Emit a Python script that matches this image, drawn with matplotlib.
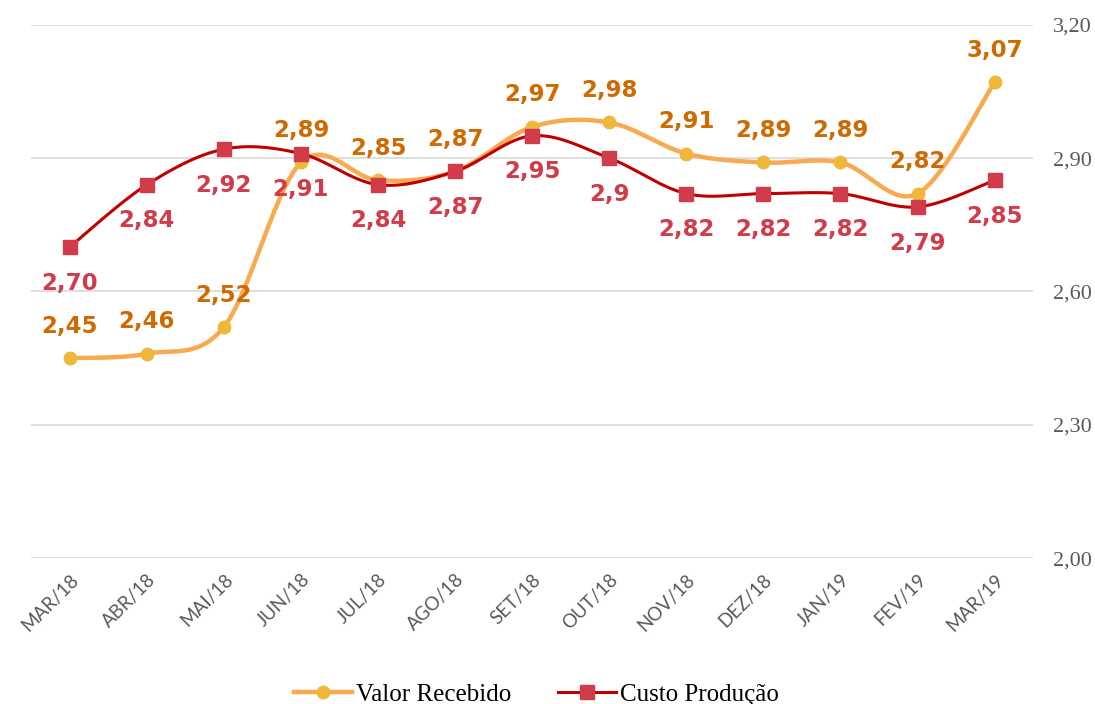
import numpy as np
import matplotlib
matplotlib.use('Agg')
import matplotlib.pyplot as plt
from matplotlib.lines import Line2D

meses = ['MAR/18', 'ABR/18', 'MAI/18', 'JUN/18', 'JUL/18', 'AGO/18', 'SET/18',
         'OUT/18', 'NOV/18', 'DEZ/18', 'JAN/19', 'FEV/19', 'MAR/19']
valor_recebido = [2.45, 2.46, 2.52, 2.89, 2.85, 2.87, 2.97, 2.98, 2.91, 2.89, 2.89, 2.82, 3.07]
custo_producao = [2.70, 2.84, 2.92, 2.91, 2.84, 2.87, 2.95, 2.90, 2.82, 2.82, 2.82, 2.79, 2.85]
rotulos_custo = ['2,70', '2,84', '2,92', '2,91', '2,84', '2,87', '2,95', '2,9', '2,82', '2,82',
                 '2,82', '2,79', '2,85']
yticks = [2.00, 2.30, 2.60, 2.90, 3.20]


def suave(x, y, n=30):
    # excel-like smoothed line (bezier, catmull-rom control points)
    x = np.asarray(x, float)
    y = np.asarray(y, float)
    px, py = [], []
    for i in range(len(x) - 1):
        i0 = max(i - 1, 0)
        i3 = min(i + 2, len(x) - 1)
        c1x = x[i] + (x[i + 1] - x[i0]) / 6
        c1y = y[i] + (y[i + 1] - y[i0]) / 6
        c2x = x[i + 1] - (x[i3] - x[i]) / 6
        c2y = y[i + 1] - (y[i3] - y[i]) / 6
        t = np.linspace(0, 1, n)
        px.extend((1-t)**3*x[i] + 3*(1-t)**2*t*c1x + 3*(1-t)*t**2*c2x + t**3*x[i+1])
        py.extend((1-t)**3*y[i] + 3*(1-t)**2*t*c1y + 3*(1-t)*t**2*c2y + t**3*y[i+1])
    return px, py


cor_valor_linha = '#F9A94F'
cor_valor_ponto = '#EFB83A'
cor_valor_txt = '#D06A00'
cor_custo_linha = '#C00000'
cor_custo_ponto = '#D13B4A'
cor_custo_txt = '#D13B4A'

fig = plt.figure(figsize=(10.95, 7.04), dpi=100)
ax = fig.add_axes([0.0285, 0.207, 0.915, 0.758])

x = np.arange(len(meses))

sx, sy = suave(x, valor_recebido)
ax.plot(sx, sy, color=cor_valor_linha, lw=3.2, zorder=2, solid_capstyle='round')
ax.plot(x, valor_recebido, 'o', color=cor_valor_ponto, ms=9, zorder=4)

sx, sy = suave(x, custo_producao)
ax.plot(sx, sy, color=cor_custo_linha, lw=2.2, zorder=3)
ax.plot(x, custo_producao, 's', color=cor_custo_ponto, ms=9.5, zorder=5)

for i in range(len(meses)):
    ax.annotate(f'{valor_recebido[i]:.2f}'.replace('.', ','), (x[i], valor_recebido[i]),
                xytext=(0, 23), textcoords='offset points', ha='center', va='center',
                fontsize=16.5, fontweight='bold', color=cor_valor_txt, family='DejaVu Sans')
    ax.annotate(rotulos_custo[i], (x[i], custo_producao[i]),
                xytext=(0, -26), textcoords='offset points', ha='center', va='center',
                fontsize=16.5, fontweight='bold', color=cor_custo_txt, family='DejaVu Sans')

ax.set_xlim(-0.5, len(meses) - 0.5)
ax.set_ylim(2.0, 3.2)
ax.set_yticks(yticks)
ax.set_yticklabels([f'{v:.2f}'.replace('.', ',') for v in yticks],
                   family='Liberation Serif', fontsize=16, color='#595959')
ax.yaxis.tick_right()
ax.set_xticks(x)
ax.set_xticklabels(meses, rotation=45, ha='right', rotation_mode='anchor',
                   family='Lato', fontsize=13.5, color='#595959')
ax.tick_params(axis='both', length=0)
ax.tick_params(axis='y', pad=14)
ax.tick_params(axis='x', pad=9)
ax.grid(axis='y', color='#D9D9D9', lw=1.2)
ax.set_axisbelow(True)
for s in ax.spines.values():
    s.set_visible(False)

handles = [
    Line2D([], [], color=cor_valor_linha, lw=3.2, marker='o', ms=9,
           markerfacecolor=cor_valor_ponto, markeredgecolor=cor_valor_ponto),
    Line2D([], [], color=cor_custo_linha, lw=2.2, marker='s', ms=9.5,
           markerfacecolor=cor_custo_ponto, markeredgecolor=cor_custo_ponto),
]
fig.legend(handles, ['Valor Recebido', 'Custo Produção'], loc='lower center',
           bbox_to_anchor=(0.49, -0.035), ncol=2, frameon=False, handlelength=2.3,
           handletextpad=0.15, columnspacing=1.9,
           prop={'family': 'Liberation Serif', 'size': 18})

fig.savefig('out.png', dpi=100)
